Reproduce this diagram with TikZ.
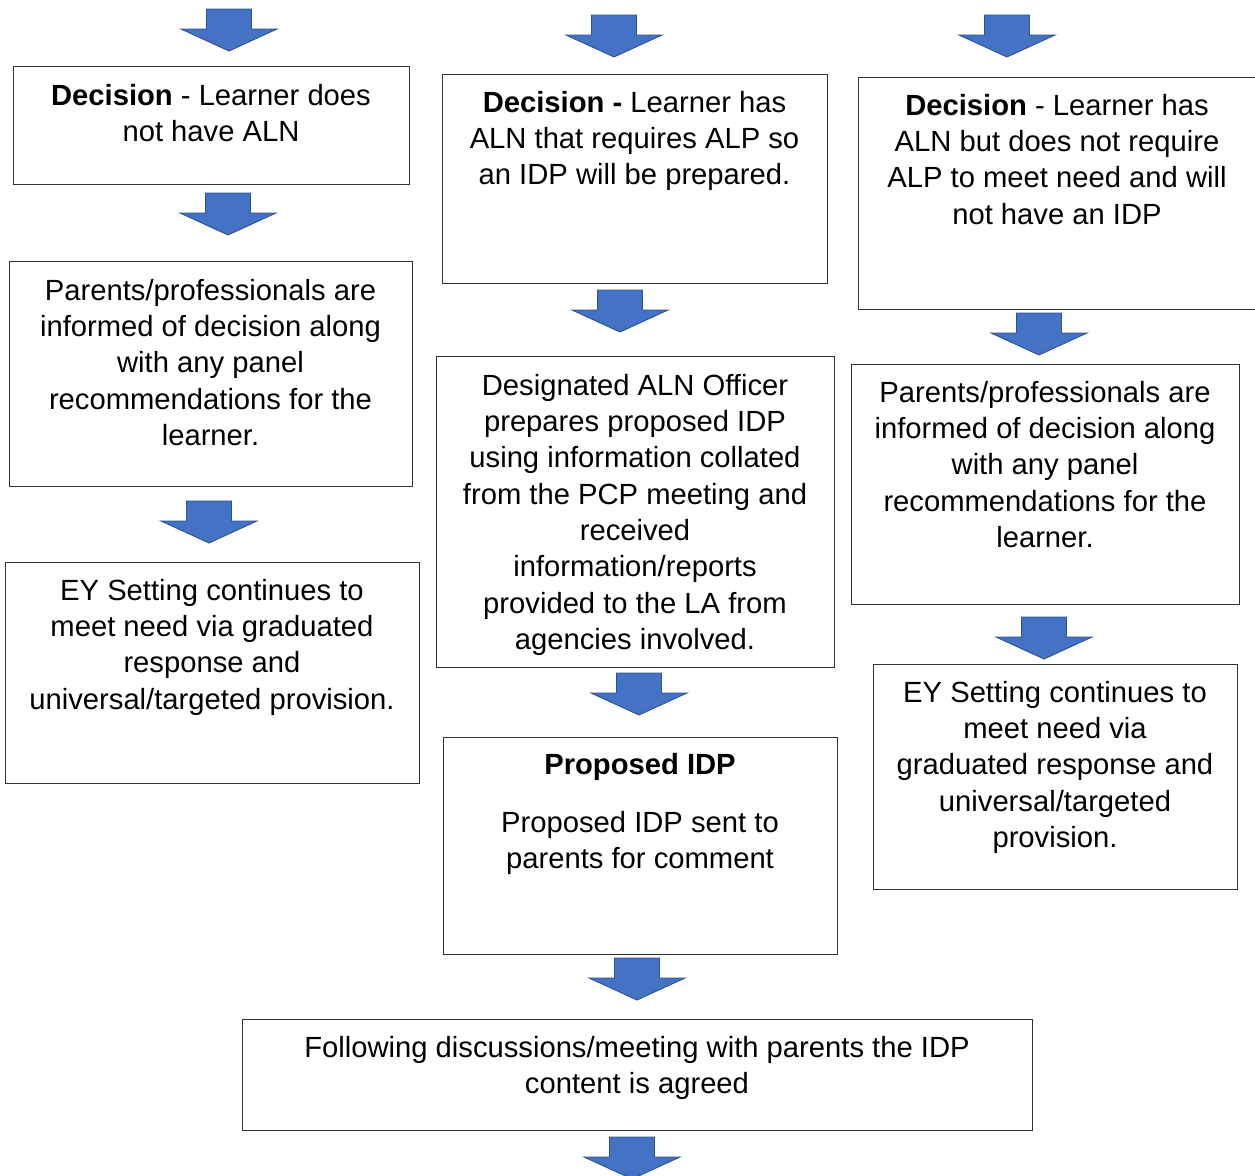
\documentclass[tikz,border=0pt]{standalone}
\usepackage{fontspec}
\setmainfont{Liberation Sans}
\definecolor{arrowblue}{HTML}{4472C4}
\definecolor{arrowedge}{HTML}{2F528F}
\tikzset{
  flowbox/.style={draw=black!80, line width=1.3pt, fill=white, inner sep=0pt, anchor=north west},
  flowtext/.style={anchor=north, inner sep=0pt, align=center, text=black,
                   font=\fontsize{29.2}{36.3}\selectfont},
  blockdown/.pic={\filldraw[fill=arrowblue, draw=arrowedge, line width=0.9pt, line join=miter]
     (-22.5,0) -- (22.5,0) -- (22.5,20) -- (48,20) -- (0,42) -- (-48,20) -- (-22.5,20) -- cycle;}
}
\newcommand\flowrect[5]{\node[flowbox, minimum width=#4pt-#2pt, minimum height=#5pt-#3pt] (#1) at (#2,#3) {};}
\begin{document}
\begin{tikzpicture}[x=1pt,y=-1pt]
\useasboundingbox[fill=white] (0,0) rectangle (1255,1175);
\clip (0,0) rectangle (1255,1175);

% boxes
\flowrect{A}{13}{66}{409}{184}
\flowrect{B}{9}{261}{412}{486}
\flowrect{C}{5}{562}{419}{783}
\flowrect{D}{442}{74}{827}{283}
\flowrect{E}{436}{356}{834}{667}
\flowrect{F}{443}{737}{837}{954}
\flowrect{G}{242}{1019}{1032}{1130}
\flowrect{H}{858}{77}{1258}{309}
\flowrect{I}{851}{364}{1239}{604}
\flowrect{J}{873}{664}{1237}{889}

% texts
\node[flowtext] (Atext) at (211,79.6) {\strut\textbf{Decision} - Learner does\\not have ALN};
\node[flowtext] (Btext) at (210.5,274.6) {\strut Parents/professionals are\\informed of decision along\\with any panel\\recommendations for the\\learner.};
\node[flowtext] (Ctext) at (212,574.6) {\strut EY Setting continues to\\meet need via graduated\\response and\\universal/targeted provision.};
\node[flowtext] (Dtext) at (634.5,86.6) {\strut\textbf{Decision -} Learner has\\ALN that requires ALP so\\an IDP will be prepared.};
\node[flowtext] (Etext) at (635,369.6) {\strut Designated ALN Officer\\prepares proposed IDP\\using information collated\\from the PCP meeting and\\received\\information/reports\\provided to the LA from\\agencies involved.};
\node[flowtext] (Ftext) at (640,748.6) {\strut\textbf{Proposed IDP}\\[21.7pt]Proposed IDP sent to\\parents for comment};
\node[flowtext] (Gtext) at (637,1031.6) {\strut Following discussions/meeting with parents the IDP\\content is agreed};
\node[flowtext] (Htext) at (1057,89.6) {\strut\textbf{Decision} - Learner has\\ALN but does not require\\ALP to meet need and will\\not have an IDP};
\node[flowtext] (Itext) at (1045,376.6) {\strut Parents/professionals are\\informed of decision along\\with any panel\\recommendations for the\\learner.};
\node[flowtext] (Jtext) at (1055,676.6) {\strut EY Setting continues to\\meet need via\\graduated response and\\universal/targeted\\provision.};

% block arrows
\pic at (229,9) {blockdown};
\pic at (614,15) {blockdown};
\pic at (1007,15) {blockdown};
\pic at (228,193) {blockdown};
\pic at (620,290) {blockdown};
\pic at (1039,313) {blockdown};
\pic at (209,501) {blockdown};
\pic at (639,673) {blockdown};
\pic at (1044,617) {blockdown};
\pic at (637,958) {blockdown};
\pic at (632,1137) {blockdown};
\end{tikzpicture}
\end{document}
